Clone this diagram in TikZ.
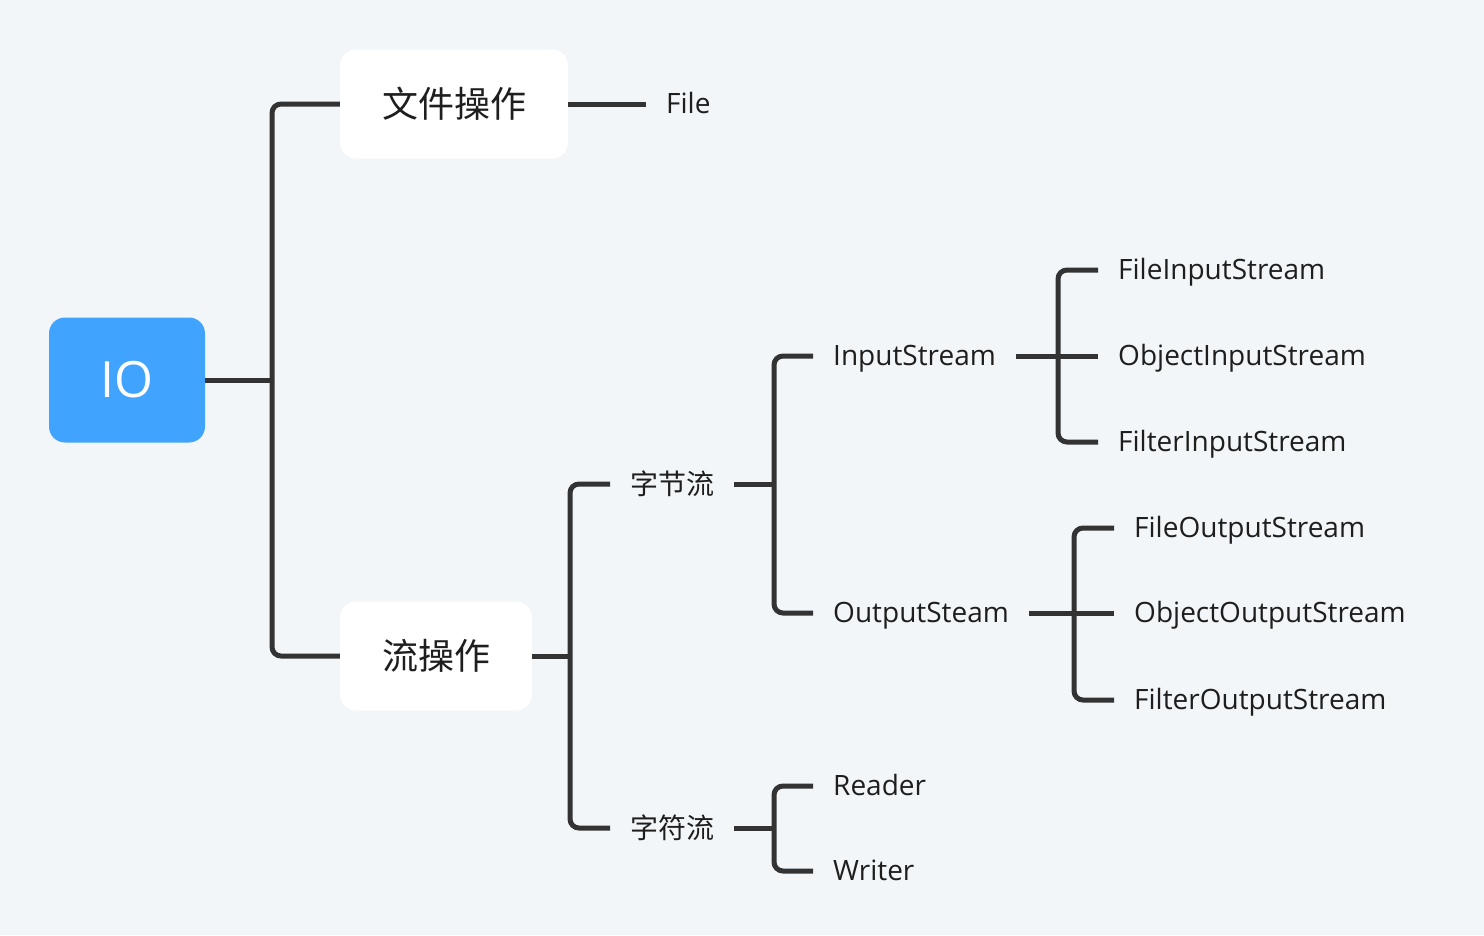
\documentclass[tikz,border=0pt]{standalone}
\usepackage{fontspec}
\setmainfont{Open Sans}
\newfontfamily\cjk{Noto Sans CJK SC}
\definecolor{bg}{HTML}{F2F6F9}
\definecolor{iob}{HTML}{40A4FF}
\definecolor{ln}{HTML}{333333}
\definecolor{tx}{HTML}{1E1E1E}
\tikzset{
  conn/.style={draw=ln, line width=5pt, rounded corners=9pt},
  rootbox/.style={fill=iob, rounded corners=16pt, minimum width=156pt, minimum height=125pt, text=white, font=\fontsize{50}{60}\selectfont, inner sep=0pt},
  mainbox/.style={fill=white, rounded corners=16pt, minimum height=109pt, inner sep=0pt, text=tx, font=\cjk\fontsize{36}{44}\selectfont},
  leaf/.style={anchor=west, inner xsep=20pt, inner ysep=4pt, text height=21pt, text depth=3pt, text=tx, font=\fontsize{28}{33}\selectfont},
  cleaf/.style={anchor=west, inner xsep=20pt, inner ysep=4pt, text=tx, font=\cjk\fontsize{28}{33}\selectfont},
}
\begin{document}
\begin{tikzpicture}[x=1pt,y=-1pt]
\fill[bg] (0,0) rectangle (1484,935);
\useasboundingbox (0,0) rectangle (1484,935);

\node[rootbox] (io) at (127,380) {IO};
\node[mainbox, minimum width=228pt] (wj) at (454,104) {文件操作};
\node[mainbox, minimum width=192pt] (lc) at (436,656) {流操作};

\node[leaf] (file) at (646,104) {File};
\node[cleaf] (zj) at (610,484) {字节流};
\node[cleaf] (zf) at (610,828) {字符流};
\node[leaf] (ins) at (813,356) {InputStream};
\node[leaf] (outs) at (813,613) {OutputSteam};
\node[leaf] (fis) at (1098,270) {FileInputStream};
\node[leaf] (ois) at (1098,356) {ObjectInputStream};
\node[leaf] (flis) at (1098,442) {FilterInputStream};
\node[leaf] (fos) at (1114,528) {FileOutputStream};
\node[leaf] (oos) at (1114,613) {ObjectOutputStream};
\node[leaf] (flos) at (1114,700) {FilterOutputStream};
\node[leaf] (rd) at (813,786) {Reader};
\node[leaf] (wr) at (813,871) {Writer};

\coordinate (j1) at (272,380);
\coordinate (j2) at (570,656);
\coordinate (j3) at (774,484);
\coordinate (j4) at (1058,356);
\coordinate (j5) at (1074,613);
\coordinate (j6) at (774,828);

% root
\draw[conn] (io.east) -- (j1);
\draw[conn] (j1) |- (wj.west);
\draw[conn] (j1) |- (lc.west);
\draw[conn] (wj.east) -- (file.west);
% stream
\draw[conn] (lc.east) -- (j2);
\draw[conn] (j2) |- (zj.west);
\draw[conn] (j2) |- (zf.west);
% byte stream
\draw[conn] (zj.east) -- (j3);
\draw[conn] (j3) |- (ins.west);
\draw[conn] (j3) |- (outs.west);
% input
\draw[conn] (ins.east) -- (j4);
\draw[conn] (j4) |- (fis.west);
\draw[conn] (j4) -- (ois.west);
\draw[conn] (j4) |- (flis.west);
% output
\draw[conn] (outs.east) -- (j5);
\draw[conn] (j5) |- (fos.west);
\draw[conn] (j5) -- (oos.west);
\draw[conn] (j5) |- (flos.west);
% char stream
\draw[conn] (zf.east) -- (j6);
\draw[conn] (j6) |- (rd.west);
\draw[conn] (j6) |- (wr.west);
\end{tikzpicture}
\end{document}
